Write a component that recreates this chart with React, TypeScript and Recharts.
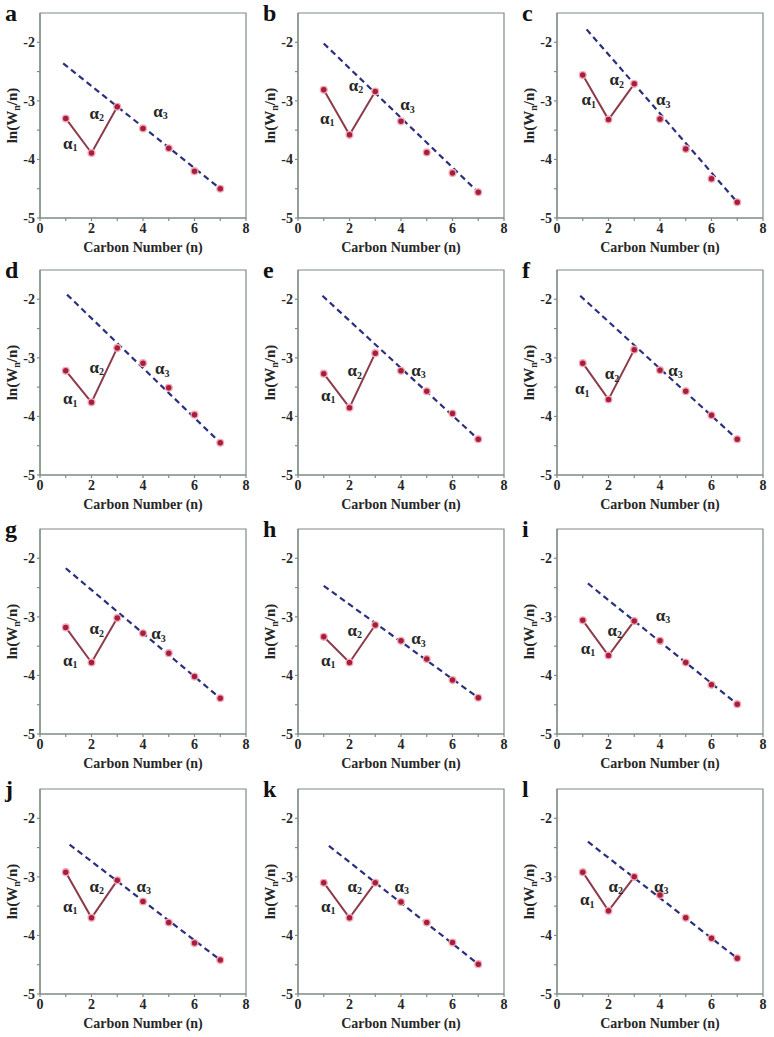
import React from 'react';
import { ComposedChart, Line, Scatter, XAxis, YAxis, ReferenceArea, ReferenceDot } from 'recharts';

// ---- data ----
const carbonNumbers = [1, 2, 3, 4, 5, 6, 7];
const panelLetters = ['a', 'b', 'c', 'd', 'e', 'f', 'g', 'h', 'i', 'j', 'k', 'l'];

const valuesA = [-3.30, -3.89, -3.10, -3.47, -3.81, -4.20, -4.50];
const valuesB = [-2.81, -3.58, -2.84, -3.35, -3.88, -4.23, -4.56];
const valuesC = [-2.56, -3.32, -2.71, -3.31, -3.82, -4.33, -4.73];
const valuesD = [-3.22, -3.76, -2.83, -3.09, -3.51, -3.97, -4.45];
const valuesE = [-3.27, -3.85, -2.92, -3.22, -3.57, -3.95, -4.39];
const valuesF = [-3.09, -3.71, -2.86, -3.21, -3.57, -3.98, -4.39];
const valuesG = [-3.18, -3.78, -3.02, -3.28, -3.62, -4.02, -4.39];
const valuesH = [-3.34, -3.78, -3.14, -3.41, -3.72, -4.08, -4.38];
const valuesI = [-3.06, -3.66, -3.07, -3.41, -3.78, -4.16, -4.49];
const valuesJ = [-2.92, -3.70, -3.06, -3.42, -3.78, -4.13, -4.42];
const valuesK = [-3.10, -3.70, -3.10, -3.43, -3.78, -4.12, -4.49];
const valuesL = [-2.92, -3.58, -3.00, -3.31, -3.70, -4.05, -4.39];

// dashed fit line (alpha3): start point, ends at n = 7 value
const fitStartN = [0.9, 1.0, 1.15, 1.05, 0.95, 0.9, 1.0, 1.0, 1.2, 1.15, 1.2, 1.2];
const fitStartY = [-2.36, -2.02, -1.78, -1.92, -1.94, -1.94, -2.17, -2.47, -2.43, -2.45, -2.47, -2.40];

// alpha label anchors (data units) : [x1,y1, x2,y2, x3,y3]
const alphaAnchors = [
  [1.17, -3.72, 2.2, -3.21, 4.68, -3.18],
  [1.14, -3.30, 2.25, -2.73, 4.25, -3.07],
  [1.23, -2.98, 2.32, -2.64, 4.13, -2.98],
  [1.17, -3.70, 2.2, -3.16, 4.75, -3.19],
  [1.17, -3.64, 2.2, -3.22, 4.68, -3.21],
  [0.98, -3.53, 2.14, -3.27, 4.6, -3.21],
  [1.17, -3.74, 2.2, -3.20, 4.6, -3.29],
  [1.17, -3.74, 2.2, -3.23, 4.68, -3.37],
  [1.2, -3.54, 2.24, -3.23, 4.12, -2.97],
  [1.17, -3.50, 2.2, -3.16, 4.03, -3.16],
  [1.17, -3.50, 2.2, -3.16, 4.03, -3.16],
  [1.17, -3.39, 2.28, -3.16, 4.05, -3.16],
];

const xTicks = [0, 1, 2, 3, 4, 5, 6, 7, 8];
const yTicks = [-5, -4.5, -4, -3.5, -3, -2.5, -2];
const xLabel = 'Carbon Number (n)';

const allValues = [valuesA, valuesB, valuesC, valuesD, valuesE, valuesF, valuesG, valuesH, valuesI, valuesJ, valuesK, valuesL];

// ---- style ----
const SERIF = '"Liberation Serif", "DejaVu Serif", serif';
const AXIS = '#7f8c84';
const SOLID = '#8d3b4b';
const DOT = '#a51f3d';
const HALO = '#f4a9b8';
const DASH = '#2a2f7e';
const TEXT = '#262626';

const colX = [0, 258, 517];
const rowY = [0, 257, 516, 776];

const YLabelContent = (props: any) => {
  const vb = props.viewBox || { x: 0, y: 0, width: 0, height: 0 };
  const cx = vb.x + 2;
  const cy = vb.y + vb.height / 2;
  return (
    <text
      x={cx}
      y={cy}
      transform={`rotate(-90 ${cx} ${cy})`}
      textAnchor="middle"
      dominantBaseline="central"
      fontFamily={SERIF}
      fontSize={15}
      fontWeight="bold"
      fill={TEXT}
    >
      ln(W<tspan dy={4} fontSize={10}>n</tspan>
      <tspan dy={-4}>/n)</tspan>
    </text>
  );
};

const alphaShape = (idx: number) => (p: any) => (
  <text
    x={p.cx}
    y={p.cy}
    textAnchor="middle"
    dominantBaseline="central"
    fontFamily={SERIF}
    fontSize={17}
    fontWeight="bold"
    fill={TEXT}
  >
    α<tspan dy={4} fontSize={10}>{idx}</tspan>
  </text>
);

const dotShape = (p: any) => (
  <circle cx={p.cx} cy={p.cy} r={3.4} fill={DOT} stroke={HALO} strokeWidth={1.3} />
);

const Panel = ({ index }: { index: number }) => {
  const vals = allValues[index];
  const pts = carbonNumbers.map((n, i) => ({ n, y: vals[i] }));
  const firstThree = pts.slice(0, 3);
  const rest = pts.slice(3);
  const fit = [
    { n: fitStartN[index], y: fitStartY[index] },
    { n: 7, y: vals[6] },
  ];
  const a = alphaAnchors[index];
  const col = index % 3;
  const row = Math.floor(index / 3);
  return (
    <div style={{ position: 'absolute', left: colX[col], top: rowY[row], width: 258, height: 258 }}>
      <div
        style={{
          position: 'absolute',
          left: 5,
          top: 0,
          fontFamily: SERIF,
          fontWeight: 'bold',
          fontSize: 24,
          lineHeight: '26px',
          color: '#111',
        }}
      >
        {panelLetters[index]}
      </div>
      <ComposedChart width={258} height={258} margin={{ top: 13, right: 12, bottom: 0, left: 10 }}>
        <XAxis
          dataKey="n"
          type="number"
          domain={[0, 8]}
          ticks={xTicks}
          interval={0}
          tickFormatter={(v: number) => (v % 2 === 0 ? String(v) : '')}
          tickSize={3}
          tickMargin={2}
          stroke={AXIS}
          strokeWidth={1.2}
          tick={{ fill: TEXT, fontFamily: SERIF, fontSize: 14, fontWeight: 'bold' }}
          height={40}
          label={{ value: xLabel, position: 'insideBottom', offset: 6, fill: TEXT, fontFamily: SERIF, fontSize: 14, fontWeight: 'bold' }}
        />
        <YAxis
          type="number"
          domain={[-5, -1.5]}
          ticks={yTicks}
          interval={0}
          tickFormatter={(v: number) => (Number.isInteger(v) ? String(v) : '')}
          tickSize={3}
          tickMargin={2}
          stroke={AXIS}
          strokeWidth={1.2}
          width={30}
          allowDataOverflow
          tick={{ fill: TEXT, fontFamily: SERIF, fontSize: 14, fontWeight: 'bold' }}
          label={<YLabelContent />}
        />
        <ReferenceArea x1={0} x2={8} y1={-5} y2={-1.5} fill="none" stroke={AXIS} strokeWidth={1.2} />
        <Line
          data={firstThree}
          dataKey="y"
          type="linear"
          stroke={SOLID}
          strokeWidth={2}
          dot={{ r: 3.4, fill: DOT, stroke: HALO, strokeWidth: 1.3 }}
          isAnimationActive={false}
        />
        <Scatter data={rest} dataKey="y" shape={dotShape} isAnimationActive={false} />
        <Line
          data={fit}
          dataKey="y"
          type="linear"
          stroke={DASH}
          strokeWidth={2.2}
          strokeDasharray="6 4"
          dot={false}
          isAnimationActive={false}
        />
        <ReferenceDot x={a[0]} y={a[1]} r={0} shape={alphaShape(1)} />
        <ReferenceDot x={a[2]} y={a[3]} r={0} shape={alphaShape(2)} />
        <ReferenceDot x={a[4]} y={a[5]} r={0} shape={alphaShape(3)} />
      </ComposedChart>
    </div>
  );
}

export default function App() {
  return (
    <div style={{ position: 'absolute', left: 0, top: 0, width: 774, height: 1037, background: '#fff' }}>
      {panelLetters.map((_, i) => (
        <Panel key={i} index={i} />
      ))}
    </div>
  );
}
